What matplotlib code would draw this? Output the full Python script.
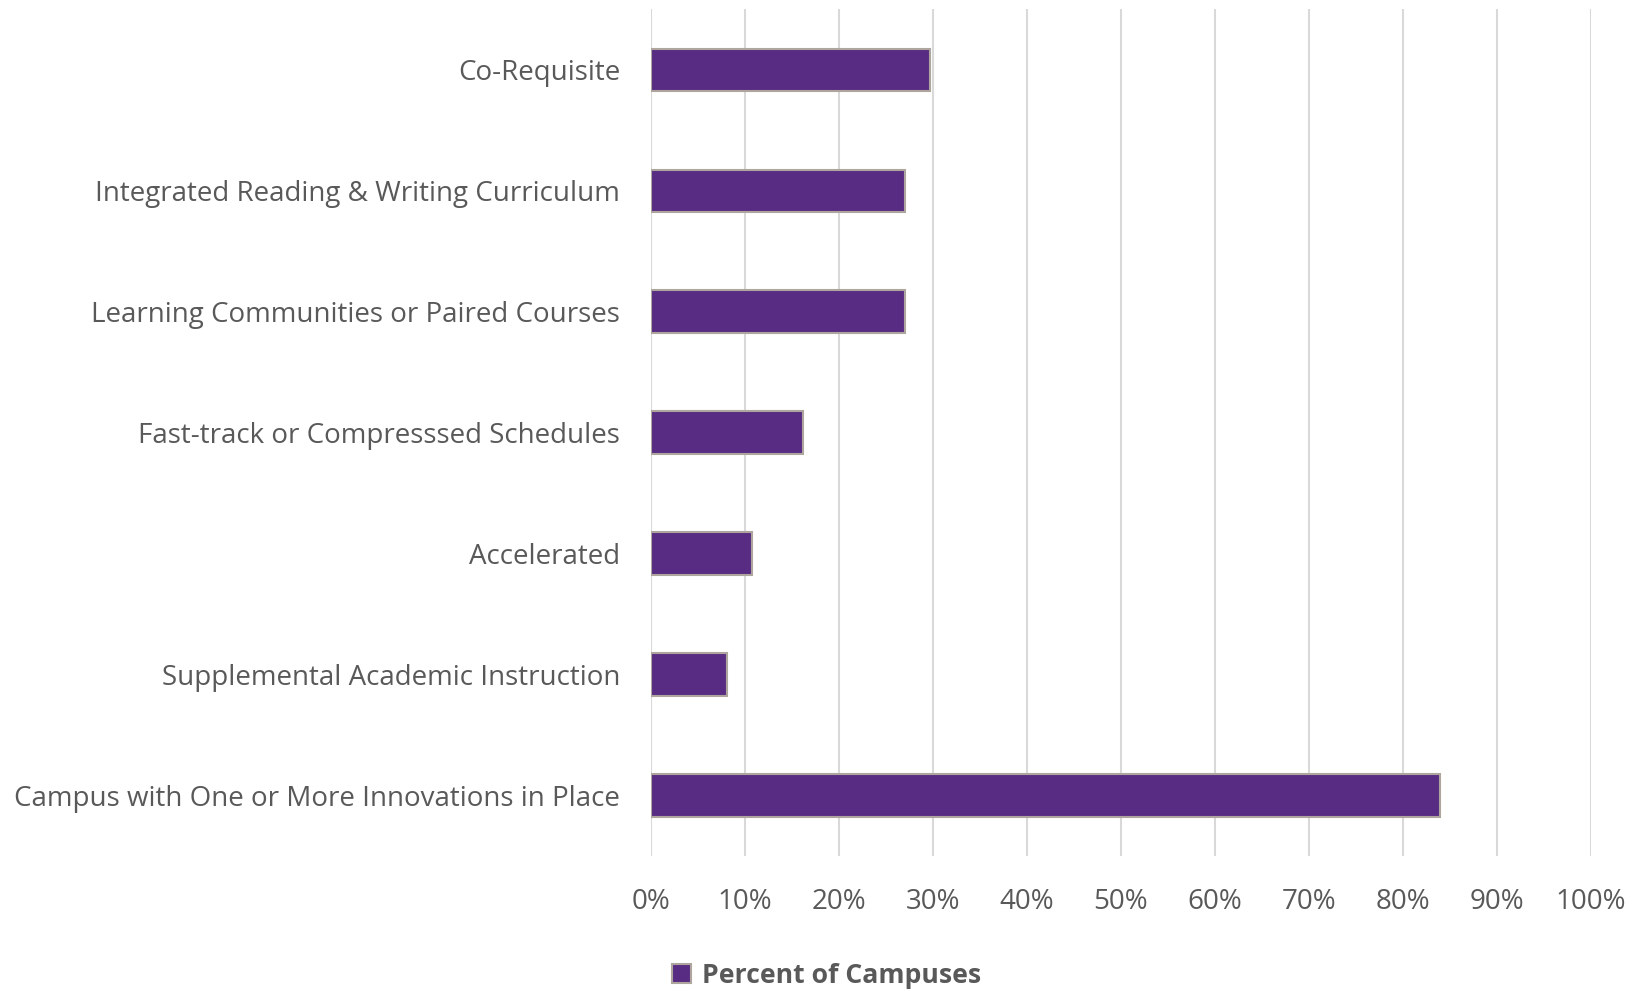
import matplotlib.pyplot as plt
from matplotlib.ticker import PercentFormatter

# innovation types, listed top to bottom
categories = [
    "Co-Requisite",
    "Integrated Reading & Writing Curriculum",
    "Learning Communities or Paired Courses",
    "Fast-track or Compresssed Schedules",
    "Accelerated",
    "Supplemental Academic Instruction",
    "Campus with One or More Innovations in Place",
]
percent_of_campuses = [29.7, 27.0, 27.0, 16.2, 10.8, 8.1, 83.9]
x_ticks = list(range(0, 101, 10))

plt.rcParams['font.family'] = ['Open Sans', 'DejaVu Sans']
text_color = "#595959"

fig = plt.figure(figsize=(16.37, 9.91), dpi=100)
ax = fig.add_axes([0.3975, 0.1362, 0.5744, 0.8545])

pos = list(range(len(categories)))
ax.barh(pos, percent_of_campuses, height=0.35, color="#582C83",
        edgecolor="#ADA59E", linewidth=1.5, label="Percent of Campuses", zorder=3)

ax.set_yticks(pos)
ax.set_yticklabels(categories)
ax.set_ylim(len(categories) - 0.5, -0.5)
ax.set_xlim(0, 100)
ax.set_xticks(x_ticks)
ax.xaxis.set_major_formatter(PercentFormatter(decimals=0))

ax.grid(axis="x", color="#D9D9D9", linewidth=1.5, zorder=0)
for s in ax.spines.values():
    s.set_visible(False)
ax.tick_params(axis="both", length=0, labelsize=20, labelcolor=text_color)
ax.tick_params(axis="y", pad=22)
ax.tick_params(axis="x", pad=23)

leg = fig.legend(loc="center", bbox_to_anchor=(0.505, 0.015), frameon=False,
                 handlelength=0.7, handleheight=0.7, handletextpad=0.4,
                 prop={"size": 19.2, "weight": "bold"})
for t in leg.get_texts():
    t.set_color(text_color)

fig.savefig("out.png", dpi=100)
